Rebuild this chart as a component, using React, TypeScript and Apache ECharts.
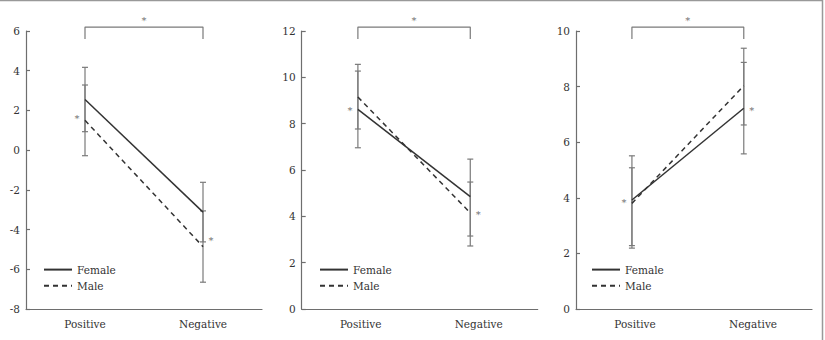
import React, { useEffect, useRef } from "react";
import * as echarts from "echarts";

const categories = ["Positive", "Negative"];
const seriesNames = ["Female", "Male"];
const catPos = [1, 3];

// Panel 1
const p1Female = [2.55, -3.12];
const p1FemaleHigh = [4.17, -1.62];
const p1FemaleLow = [0.93, -4.62];
const p1Male = [1.5, -4.86];
const p1MaleHigh = [3.28, -3.06];
const p1MaleLow = [-0.28, -6.65];
const p1Stars = [1.67, -4.47];

// Panel 2
const p2Female = [8.62, 4.85];
const p2FemaleHigh = [10.27, 6.47];
const p2FemaleLow = [6.96, 3.15];
const p2Male = [9.15, 4.15];
const p2MaleHigh = [10.56, 5.48];
const p2MaleLow = [7.77, 2.72];
const p2Stars = [8.66, 4.16];

// Panel 3
const p3Female = [3.92, 7.22];
const p3FemaleHigh = [5.51, 8.87];
const p3FemaleLow = [2.28, 5.58];
const p3Male = [3.8, 8.03];
const p3MaleHigh = [5.08, 9.38];
const p3MaleLow = [2.19, 6.62];
const p3Stars = [3.9, 7.22];

const yMins = [-8, 0, 0];
const yMaxs = [6, 12, 10];
const yInterval = 2;
const xMaxs = [4, 4.2, 4.22];
const bracketTop = [6.2, 12.17, 10.14];
const bracketFoot = [5.6, 11.65, 9.71];

const FONT = "DejaVu Serif";
const AXIS = "#6e6e6e";
const TEXT = "#333";
const LINE = "#333";
const ERR = "#7a7a7a";
const STAR = "#444";

const panelData = [
  { f: p1Female, fh: p1FemaleHigh, fl: p1FemaleLow, m: p1Male, mh: p1MaleHigh, ml: p1MaleLow, s: p1Stars },
  { f: p2Female, fh: p2FemaleHigh, fl: p2FemaleLow, m: p2Male, mh: p2MaleHigh, ml: p2MaleLow, s: p2Stars },
  { f: p3Female, fh: p3FemaleHigh, fl: p3FemaleLow, m: p3Male, mh: p3MaleHigh, ml: p3MaleLow, s: p3Stars },
];
const gridLefts = [26, 301.7, 576];
const legendLefts = [43, 319, 591];

function errRender(params: any, api: any) {
  const x = api.value(0);
  const lo = api.value(1);
  const hi = api.value(2);
  const a = api.coord([x, hi]);
  const b = api.coord([x, lo]);
  const w = 3;
  const style = { stroke: ERR, lineWidth: 1.2 };
  return {
    type: "group",
    children: [
      { type: "line", shape: { x1: a[0], y1: a[1], x2: b[0], y2: b[1] }, style },
      { type: "line", shape: { x1: a[0] - w, y1: a[1], x2: a[0] + w, y2: a[1] }, style },
      { type: "line", shape: { x1: b[0] - w, y1: b[1], x2: b[0] + w, y2: b[1] }, style },
    ],
  };
}

function buildOption() {
  const grid: any[] = [];
  const xAxis: any[] = [];
  const yAxis: any[] = [];
  const series: any[] = [];
  const legend: any[] = [];

  panelData.forEach((p, i) => {
    grid.push({ left: gridLefts[i], top: 31, width: 236, height: 278 });
    xAxis.push({
      type: "category",
      gridIndex: i,
      data: categories,
      boundaryGap: true,
      axisLine: { onZero: false, lineStyle: { color: AXIS, width: 1.2 } },
      axisTick: { show: false },
      axisLabel: { color: TEXT, fontFamily: FONT, fontSize: 10.5, margin: 9 },
      splitLine: { show: false },
    });
    xAxis.push({ type: "value", gridIndex: i, min: 0, max: xMaxs[i], show: false });
    yAxis.push({
      type: "value",
      gridIndex: i,
      min: yMins[i],
      max: yMaxs[i],
      interval: yInterval,
      axisLine: { show: true, onZero: false, lineStyle: { color: AXIS, width: 1.2 } },
      axisTick: { show: true, inside: true, length: 4, lineStyle: { color: AXIS, width: 1.2 } },
      axisLabel: { color: TEXT, fontFamily: FONT, fontSize: 10.5, margin: 6 },
      splitLine: { show: false },
    });
    const xi = 2 * i + 1;
    const errs = [
      [p.fl, p.fh],
      [p.ml, p.mh],
    ];
    errs.forEach(([lo, hi]) => {
      series.push({
        type: "custom",
        xAxisIndex: xi,
        yAxisIndex: i,
        renderItem: errRender,
        encode: { x: 0, y: [1, 2] },
        data: catPos.map((x, k) => [x, lo[k], hi[k]]),
        z: 1,
        silent: true,
      });
    });
    series.push({
      type: "line",
      name: seriesNames[0],
      xAxisIndex: xi,
      yAxisIndex: i,
      data: catPos.map((x, k) => [x, p.f[k]]),
      symbol: "none",
      lineStyle: { color: LINE, width: 1.5, type: "solid" },
      itemStyle: { color: LINE },
      z: 3,
    });
    series.push({
      type: "line",
      name: seriesNames[1],
      xAxisIndex: xi,
      yAxisIndex: i,
      data: catPos.map((x, k) => [x, p.m[k]]),
      symbol: "none",
      lineStyle: { color: LINE, width: 1.5, type: [5, 4] },
      itemStyle: { color: LINE },
      z: 3,
    });
    // bracket
    series.push({
      type: "line",
      xAxisIndex: xi,
      yAxisIndex: i,
      clip: false,
      symbol: "none",
      silent: true,
      lineStyle: { color: ERR, width: 1.2 },
      data: [
        [catPos[0], bracketFoot[i]],
        [catPos[0], bracketTop[i]],
        [catPos[1], bracketTop[i]],
        [catPos[1], bracketFoot[i]],
      ],
    });
    const starLabel = { show: true, formatter: "*", color: STAR, fontFamily: FONT, fontSize: 10 };
    series.push({
      type: "scatter",
      xAxisIndex: xi,
      yAxisIndex: i,
      clip: false,
      silent: true,
      symbolSize: 1,
      itemStyle: { color: "rgba(255,255,255,0)" },
      label: starLabel,
      data: [
        { value: [(catPos[0] + catPos[1]) / 2, bracketTop[i]], label: { ...starLabel, position: "top", distance: 1 } },
        { value: [catPos[0], p.s[0]], label: { ...starLabel, position: "left", distance: 5, offset: [0, 2] } },
        { value: [catPos[1], p.s[1]], label: { ...starLabel, position: "right", distance: 5, offset: [0, 2] } },
      ],
      z: 4,
    });
    legend.push({
      data: seriesNames,
      orient: "vertical",
      left: legendLefts[i],
      top: 264,
      padding: 0,
      itemWidth: 28,
      itemHeight: 14,
      itemGap: 5,
      itemStyle: { color: "transparent", borderWidth: 0, opacity: 0 },
      textStyle: { color: TEXT, fontFamily: FONT, fontSize: 10.5 },
      selectedMode: false,
    });
  });

  return {
    animation: false,
    backgroundColor: "#fff",
    textStyle: { fontFamily: FONT },
    grid,
    xAxis,
    yAxis,
    series,
    legend,
    graphic: [
      { type: "line", shape: { x1: 0, y1: 0.5, x2: 822.5, y2: 0.5 }, style: { stroke: "#999", lineWidth: 1.5 } },
      { type: "line", shape: { x1: 822.5, y1: 0, x2: 822.5, y2: 340 }, style: { stroke: "#999", lineWidth: 1.5 } },
    ],
  };
}

export default function App() {
  const ref = useRef<HTMLDivElement>(null);
  useEffect(() => {
    if (!ref.current) return;
    const chart = echarts.init(ref.current, undefined, { renderer: "svg" });
    chart.setOption(buildOption() as any);
    return () => chart.dispose();
  }, []);
  return (
    <div
      ref={ref}
      style={{ position: "absolute", left: 0, top: 0, width: 825, height: 340 }}
    />
  );
}
